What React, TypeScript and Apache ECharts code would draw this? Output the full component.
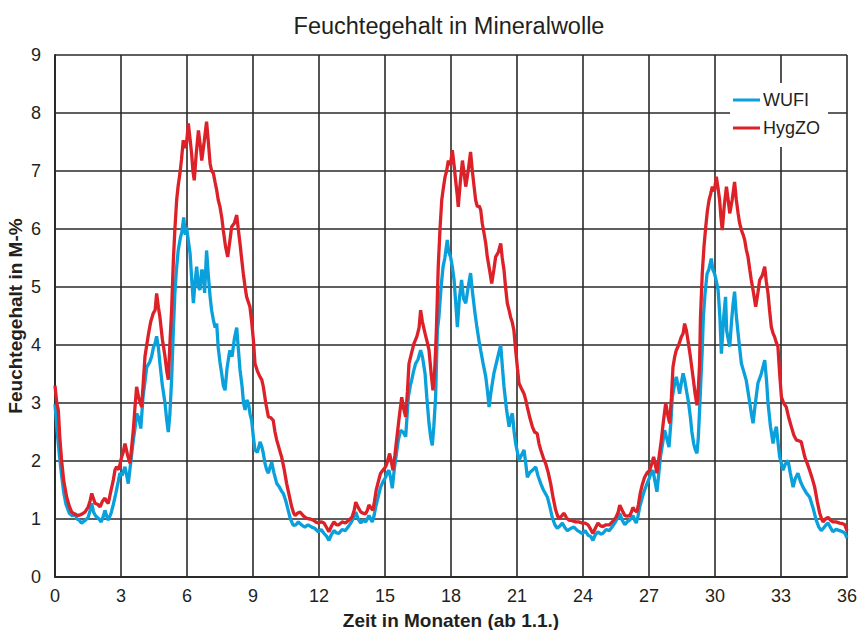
import React, { useEffect, useRef } from "react";
import * as echarts from "echarts";

const titleText = "Feuchtegehalt in Mineralwolle";
const xAxisName = "Zeit in Monaten (ab 1.1.)";
const yAxisName = "Feuchtegehalt in M-%";
const seriesNames = ["WUFI", "HygZO"];

// [month, M-%]
const wufiYear1: [number, number][] = [
  [0, 2.98], [0.1, 2.5], [0.2, 2.1], [0.3, 1.75], [0.4, 1.45], [0.5, 1.25], [0.65, 1.1], [0.8, 1.05], [0.9, 1.1], [1.0, 1.0],
  [1.1, 0.98], [1.2, 0.93], [1.35, 0.97], [1.5, 1.02], [1.6, 1.15], [1.67, 1.27], [1.75, 1.12], [1.85, 1.05], [2.0, 1.0], [2.1, 0.95],
  [2.2, 1.05], [2.27, 1.15], [2.35, 1.05], [2.42, 0.98], [2.55, 1.1], [2.65, 1.25], [2.73, 1.38], [2.85, 1.6], [2.95, 1.79], [3.05, 1.75],
  [3.18, 1.9], [3.26, 1.75], [3.33, 1.61], [3.45, 2.0], [3.56, 2.36], [3.65, 2.6], [3.71, 2.82], [3.8, 2.75], [3.9, 2.56], [4.0, 3.1],
  [4.1, 3.4], [4.17, 3.62], [4.3, 3.7], [4.39, 3.8], [4.47, 3.95], [4.55, 4.03], [4.62, 4.15], [4.7, 3.95], [4.77, 3.68], [4.88, 3.3],
  [5.0, 3.0], [5.08, 2.7], [5.15, 2.5], [5.22, 2.8], [5.3, 3.4], [5.38, 4.25], [5.45, 4.9], [5.52, 5.3], [5.6, 5.63], [5.7, 5.85],
  [5.77, 5.95], [5.85, 6.2], [5.92, 5.9], [5.98, 6.04], [6.06, 5.8], [6.14, 5.58], [6.22, 5.1], [6.29, 4.72], [6.37, 5.1], [6.44, 5.35],
  [6.52, 5.0], [6.59, 4.95], [6.67, 5.3], [6.74, 5.23], [6.8, 4.9], [6.89, 5.63], [6.97, 5.2], [7.05, 4.83], [7.12, 4.6], [7.2, 4.43],
  [7.28, 4.3], [7.35, 4.37], [7.42, 3.95], [7.5, 3.7], [7.58, 3.5], [7.65, 3.3], [7.73, 3.22], [7.82, 3.6], [7.9, 3.8], [7.95, 3.91],
  [8.05, 3.8], [8.15, 4.1], [8.26, 4.3], [8.33, 3.95], [8.41, 3.57], [8.5, 3.3], [8.57, 3.0], [8.64, 2.88], [8.72, 3.05], [8.79, 3.0],
  [8.87, 2.8], [8.94, 2.7], [9.02, 2.4], [9.09, 2.19], [9.2, 2.15], [9.32, 2.33], [9.4, 2.25], [9.47, 2.13], [9.55, 1.95], [9.62, 1.85],
  [9.7, 1.79], [9.78, 1.9], [9.85, 1.98], [9.95, 1.8], [10.08, 1.61], [10.2, 1.55], [10.3, 1.48], [10.38, 1.44], [10.5, 1.3], [10.6, 1.15],
  [10.7, 1.0], [10.83, 0.89], [10.95, 0.9], [11.06, 0.95], [11.2, 0.9], [11.36, 0.86], [11.5, 0.9], [11.67, 0.86], [11.8, 0.84], [11.97, 0.78],
];
const wufiYear2: [number, number][] = [
  [12.1, 0.82], [12.23, 0.75], [12.35, 0.7], [12.45, 0.63], [12.55, 0.72], [12.68, 0.8], [12.8, 0.76], [12.9, 0.75], [13.05, 0.82], [13.2, 0.8],
  [13.32, 0.86], [13.44, 0.93], [13.55, 1.0], [13.67, 1.12], [13.78, 1.0], [13.9, 0.93], [14.0, 0.98], [14.12, 0.95], [14.2, 1.0], [14.27, 1.06],
  [14.35, 1.0], [14.42, 0.95], [14.5, 1.05], [14.58, 1.21], [14.7, 1.4], [14.8, 1.55], [14.92, 1.65], [15.03, 1.72], [15.1, 1.8], [15.18, 1.84],
  [15.26, 1.7], [15.33, 1.53], [15.42, 1.85], [15.52, 2.13], [15.6, 2.35], [15.71, 2.53], [15.82, 2.5], [15.94, 2.42], [16.06, 3.1], [16.15, 3.3],
  [16.21, 3.39], [16.3, 3.55], [16.39, 3.68], [16.5, 3.75], [16.62, 3.91], [16.7, 3.8], [16.82, 3.51], [16.9, 3.1], [17.0, 2.65], [17.08, 2.4],
  [17.15, 2.27], [17.22, 2.6], [17.3, 3.1], [17.38, 4.25], [17.45, 4.48], [17.55, 5.0], [17.64, 5.35], [17.72, 5.5], [17.83, 5.81], [17.9, 5.6],
  [17.98, 5.52], [18.06, 5.35], [18.14, 5.12], [18.22, 4.7], [18.29, 4.31], [18.38, 4.8], [18.48, 5.12], [18.57, 4.8], [18.67, 4.72], [18.78, 5.0],
  [18.89, 5.24], [18.98, 4.9], [19.09, 4.55], [19.18, 4.3], [19.27, 4.08], [19.35, 3.91], [19.45, 3.7], [19.58, 3.45], [19.66, 3.2], [19.73, 2.93],
  [19.82, 3.2], [19.95, 3.51], [20.1, 3.75], [20.26, 4.0], [20.34, 3.6], [20.41, 3.28], [20.52, 2.9], [20.64, 2.59], [20.72, 2.75], [20.79, 2.82],
  [20.87, 2.5], [20.94, 2.3], [21.02, 2.15], [21.09, 2.01], [21.2, 2.1], [21.32, 2.19], [21.4, 1.95], [21.47, 1.72], [21.58, 1.8], [21.7, 1.84],
  [21.85, 1.9], [21.95, 1.75], [22.08, 1.61], [22.2, 1.5], [22.38, 1.38], [22.5, 1.2], [22.6, 1.03], [22.72, 0.9], [22.83, 0.84], [22.95, 0.88],
  [23.06, 0.93], [23.18, 0.85], [23.29, 0.8], [23.45, 0.84], [23.59, 0.86], [23.75, 0.8], [23.85, 0.78], [23.97, 0.75],
];
const wufiYear3: [number, number][] = [
  [24.1, 0.8], [24.23, 0.72], [24.35, 0.7], [24.45, 0.63], [24.55, 0.72], [24.68, 0.78], [24.8, 0.74], [24.9, 0.75], [25.05, 0.82], [25.2, 0.8],
  [25.32, 0.86], [25.44, 0.93], [25.55, 1.0], [25.67, 1.1], [25.78, 0.98], [25.9, 0.9], [26.0, 0.95], [26.12, 0.98], [26.2, 1.02], [26.27, 1.06],
  [26.35, 0.98], [26.42, 0.93], [26.5, 1.05], [26.58, 1.21], [26.7, 1.38], [26.8, 1.5], [26.92, 1.62], [27.03, 1.72], [27.1, 1.8], [27.18, 1.84],
  [27.27, 1.65], [27.36, 1.47], [27.45, 1.8], [27.52, 2.07], [27.62, 2.3], [27.71, 2.53], [27.8, 2.4], [27.91, 2.24], [28.0, 2.7], [28.06, 3.1],
  [28.15, 3.3], [28.24, 3.45], [28.32, 3.3], [28.39, 3.16], [28.47, 3.35], [28.55, 3.51], [28.62, 3.4], [28.7, 3.22], [28.8, 3.0], [28.88, 2.76],
  [28.95, 2.5], [29.03, 2.3], [29.1, 2.2], [29.18, 2.13], [29.24, 2.4], [29.3, 2.88], [29.36, 3.4], [29.42, 3.91], [29.47, 4.48], [29.55, 4.9],
  [29.64, 5.23], [29.72, 5.3], [29.83, 5.49], [29.9, 5.3], [29.98, 5.23], [30.06, 5.1], [30.14, 4.95], [30.22, 4.5], [30.29, 3.85], [30.35, 4.2],
  [30.4, 4.5], [30.48, 4.83], [30.53, 4.25], [30.6, 4.1], [30.67, 3.97], [30.75, 4.4], [30.82, 4.7], [30.89, 4.92], [30.97, 4.5], [31.05, 4.2],
  [31.12, 3.95], [31.2, 3.68], [31.3, 3.55], [31.42, 3.39], [31.5, 3.2], [31.58, 3.0], [31.66, 2.8], [31.73, 2.65], [31.82, 2.95], [31.95, 3.34],
  [32.1, 3.5], [32.26, 3.74], [32.34, 3.4], [32.41, 3.0], [32.52, 2.6], [32.64, 2.3], [32.72, 2.5], [32.79, 2.59], [32.87, 2.3], [32.94, 2.07],
  [33.02, 1.95], [33.09, 1.84], [33.2, 1.95], [33.32, 2.01], [33.42, 1.8], [33.55, 1.55], [33.65, 1.7], [33.77, 1.79], [33.88, 1.65], [34.0, 1.55],
  [34.15, 1.45], [34.3, 1.38], [34.45, 1.2], [34.6, 0.98], [34.72, 0.86], [34.83, 0.8], [34.95, 0.85], [35.05, 0.9], [35.14, 0.93], [35.25, 0.85],
  [35.36, 0.78], [35.5, 0.82], [35.67, 0.8], [35.8, 0.78], [35.9, 0.76], [36.0, 0.67],
];

const hygzoYear1: [number, number][] = [
  [0, 3.3], [0.08, 3.0], [0.15, 2.88], [0.22, 2.4], [0.3, 2.01], [0.4, 1.65], [0.53, 1.38], [0.65, 1.22], [0.76, 1.12], [0.9, 1.08],
  [1.06, 1.06], [1.2, 1.08], [1.36, 1.12], [1.5, 1.2], [1.6, 1.32], [1.67, 1.44], [1.75, 1.35], [1.82, 1.27], [1.95, 1.25], [2.05, 1.21],
  [2.15, 1.3], [2.27, 1.36], [2.35, 1.3], [2.42, 1.27], [2.55, 1.5], [2.65, 1.67], [2.73, 1.85], [2.8, 1.9], [2.9, 1.85], [3.03, 2.07],
  [3.1, 2.15], [3.18, 2.3], [3.3, 2.1], [3.41, 1.96], [3.5, 2.3], [3.56, 2.53], [3.63, 2.9], [3.71, 3.28], [3.8, 3.1], [3.94, 2.93],
  [4.02, 3.4], [4.09, 3.8], [4.17, 4.0], [4.24, 4.17], [4.35, 4.4], [4.47, 4.55], [4.55, 4.6], [4.62, 4.89], [4.7, 4.65], [4.77, 4.48],
  [4.88, 4.1], [5.0, 3.8], [5.08, 3.55], [5.15, 3.4], [5.23, 4.08], [5.3, 4.6], [5.38, 5.46], [5.45, 6.0], [5.53, 6.5], [5.6, 6.75],
  [5.68, 6.96], [5.75, 7.2], [5.83, 7.53], [5.9, 7.4], [5.98, 7.48], [6.06, 7.82], [6.14, 7.55], [6.21, 7.3], [6.27, 7.0], [6.33, 6.84],
  [6.42, 7.3], [6.52, 7.7], [6.6, 7.45], [6.67, 7.18], [6.78, 7.5], [6.89, 7.85], [6.97, 7.5], [7.05, 7.13], [7.12, 7.0], [7.2, 6.96],
  [7.28, 6.8], [7.35, 6.67], [7.42, 6.5], [7.5, 6.38], [7.58, 6.2], [7.65, 5.98], [7.75, 5.7], [7.85, 5.52], [7.95, 5.8], [8.03, 6.04],
  [8.15, 6.1], [8.26, 6.24], [8.33, 6.0], [8.41, 5.75], [8.48, 5.5], [8.56, 5.23], [8.64, 5.0], [8.71, 4.83], [8.78, 4.75], [8.86, 4.66],
  [8.94, 4.4], [9.02, 4.08], [9.09, 3.68], [9.2, 3.55], [9.32, 3.45], [9.4, 3.4], [9.47, 3.28], [9.58, 3.0], [9.7, 2.76], [9.8, 2.75],
  [9.92, 2.7], [10.0, 2.5], [10.08, 2.36], [10.2, 2.2], [10.3, 2.07], [10.42, 1.85], [10.53, 1.61], [10.65, 1.4], [10.76, 1.21], [10.85, 1.1],
  [10.91, 1.06], [11.02, 1.1], [11.14, 1.12], [11.3, 1.05], [11.44, 1.01], [11.6, 1.0], [11.74, 0.98], [11.85, 0.95], [11.97, 0.93],
];
const hygzoYear2: [number, number][] = [
  [12.1, 0.95], [12.23, 0.93], [12.35, 0.85], [12.45, 0.78], [12.57, 0.88], [12.68, 0.95], [12.8, 0.9], [12.9, 0.9], [13.05, 0.95], [13.2, 0.93],
  [13.35, 0.98], [13.5, 1.03], [13.6, 1.15], [13.67, 1.29], [13.78, 1.2], [13.9, 1.12], [14.0, 1.1], [14.12, 1.09], [14.2, 1.15], [14.27, 1.24],
  [14.35, 1.2], [14.45, 1.15], [14.52, 1.3], [14.6, 1.5], [14.7, 1.65], [14.8, 1.79], [14.92, 1.85], [15.03, 1.9], [15.12, 2.0], [15.21, 2.13],
  [15.28, 2.0], [15.36, 1.84], [15.45, 2.1], [15.56, 2.47], [15.66, 2.8], [15.76, 3.1], [15.85, 2.9], [15.94, 2.76], [16.02, 3.2], [16.09, 3.68],
  [16.2, 3.85], [16.32, 4.03], [16.45, 4.15], [16.55, 4.3], [16.62, 4.6], [16.7, 4.4], [16.82, 4.2], [16.92, 4.05], [17.0, 3.91], [17.1, 3.5],
  [17.18, 3.22], [17.25, 3.5], [17.3, 3.91], [17.34, 4.31], [17.42, 5.35], [17.5, 6.0], [17.58, 6.5], [17.65, 6.7], [17.73, 6.9], [17.8, 7.0],
  [17.88, 7.18], [17.97, 7.1], [18.06, 7.36], [18.14, 7.1], [18.21, 6.84], [18.28, 6.6], [18.33, 6.38], [18.42, 6.8], [18.52, 7.18], [18.6, 6.95],
  [18.67, 6.73], [18.78, 7.0], [18.89, 7.33], [18.97, 7.0], [19.05, 6.73], [19.12, 6.5], [19.2, 6.38], [19.28, 6.4], [19.35, 6.33], [19.42, 6.1],
  [19.5, 5.93], [19.58, 5.75], [19.65, 5.52], [19.75, 5.3], [19.85, 5.06], [19.95, 5.3], [20.03, 5.52], [20.15, 5.6], [20.26, 5.75], [20.33, 5.5],
  [20.41, 5.29], [20.48, 5.0], [20.56, 4.72], [20.64, 4.6], [20.71, 4.48], [20.78, 4.4], [20.86, 4.25], [20.94, 3.91], [21.02, 3.6], [21.09, 3.34],
  [21.2, 3.25], [21.32, 3.16], [21.4, 3.05], [21.47, 2.93], [21.58, 2.75], [21.7, 2.59], [21.8, 2.5], [21.92, 2.47], [22.0, 2.3], [22.08, 2.19],
  [22.2, 2.05], [22.3, 1.96], [22.42, 1.8], [22.53, 1.61], [22.65, 1.35], [22.76, 1.15], [22.85, 1.05], [22.91, 1.01], [23.02, 1.05], [23.14, 1.1],
  [23.25, 1.02], [23.36, 0.98], [23.5, 0.97], [23.67, 0.95], [23.8, 0.95], [23.97, 0.93],
];
const hygzoYear3: [number, number][] = [
  [24.1, 0.93], [24.23, 0.9], [24.35, 0.82], [24.45, 0.75], [24.57, 0.85], [24.68, 0.93], [24.8, 0.88], [24.9, 0.87], [25.05, 0.9], [25.2, 0.9],
  [25.35, 0.96], [25.5, 1.03], [25.6, 1.12], [25.67, 1.24], [25.78, 1.15], [25.9, 1.06], [26.0, 1.05], [26.12, 1.06], [26.2, 1.12], [26.27, 1.2],
  [26.35, 1.15], [26.45, 1.12], [26.52, 1.25], [26.6, 1.44], [26.7, 1.6], [26.8, 1.72], [26.92, 1.8], [27.03, 1.84], [27.12, 1.95], [27.21, 2.07],
  [27.28, 1.95], [27.36, 1.79], [27.45, 2.05], [27.56, 2.36], [27.66, 2.7], [27.76, 3.0], [27.85, 2.8], [27.94, 2.65], [28.02, 3.1], [28.09, 3.62],
  [28.17, 3.8], [28.24, 3.91], [28.35, 4.0], [28.47, 4.14], [28.55, 4.2], [28.62, 4.37], [28.7, 4.25], [28.77, 4.08], [28.88, 3.8], [29.0, 3.45],
  [29.1, 3.15], [29.18, 2.96], [29.25, 3.3], [29.3, 3.68], [29.34, 4.48], [29.42, 5.23], [29.5, 5.7], [29.58, 6.04], [29.65, 6.3], [29.73, 6.5],
  [29.8, 6.6], [29.88, 6.73], [29.97, 6.65], [30.06, 6.9], [30.14, 6.7], [30.21, 6.5], [30.27, 6.2], [30.33, 5.98], [30.42, 6.4], [30.52, 6.73],
  [30.6, 6.5], [30.67, 6.27], [30.78, 6.5], [30.89, 6.81], [30.97, 6.5], [31.05, 6.27], [31.12, 6.1], [31.2, 5.98], [31.28, 5.9], [31.35, 5.81],
  [31.42, 5.65], [31.5, 5.52], [31.58, 5.3], [31.65, 5.12], [31.75, 4.9], [31.85, 4.66], [31.95, 4.9], [32.03, 5.12], [32.15, 5.2], [32.26, 5.35],
  [32.33, 5.1], [32.41, 4.89], [32.48, 4.6], [32.56, 4.31], [32.64, 4.2], [32.71, 4.14], [32.78, 4.05], [32.86, 3.97], [32.94, 3.5], [33.02, 3.1],
  [33.12, 3.0], [33.24, 2.93], [33.35, 2.75], [33.47, 2.59], [33.58, 2.45], [33.7, 2.36], [33.8, 2.35], [33.92, 2.33], [34.0, 2.2], [34.08, 2.07],
  [34.2, 1.95], [34.3, 1.84], [34.42, 1.7], [34.53, 1.55], [34.65, 1.3], [34.76, 1.1], [34.85, 1.0], [34.91, 0.95], [35.02, 1.0], [35.14, 1.03],
  [35.25, 0.98], [35.36, 0.95], [35.5, 0.95], [35.67, 0.93], [35.8, 0.92], [35.9, 0.9], [36.0, 0.8],
];

const FONT = "'Liberation Sans', Arial, Helvetica, sans-serif";
const TEXT = "#231f20";
const GRIDC = "#2a2a2a";

export default function App() {
  const ref = useRef<HTMLDivElement>(null);
  useEffect(() => {
    if (!ref.current) return;
    const chart = echarts.init(ref.current, undefined, { renderer: "svg" });
    chart.setOption({
      animation: false,
      backgroundColor: "#ffffff",
      textStyle: { fontFamily: FONT },
      title: {
        text: titleText,
        left: 444,
        top: 9,
        textAlign: "center",
        textStyle: { fontFamily: FONT, fontSize: 23.5, fontWeight: "normal", color: TEXT },
      },
      grid: { left: 55, right: 14, top: 55, bottom: 53, containLabel: false, outerBoundsMode: "none" },
      legend: {
        data: seriesNames,
        orient: "vertical",
        left: 730,
        top: 83,
        padding: [7, 8, 9, 3],
        backgroundColor: "#ffffff",
        itemGap: 8,
        itemWidth: 27,
        itemHeight: 3,
        icon: "rect",
        textStyle: { fontFamily: FONT, fontSize: 18, color: TEXT, lineHeight: 20, padding: [0, 0, 0, -2] },
      },
      xAxis: {
        type: "value",
        min: 0,
        max: 36,
        interval: 3,
        name: xAxisName,
        nameLocation: "middle",
        nameGap: 34,
        nameMoveOverlap: false,
        nameTextStyle: { fontFamily: FONT, fontSize: 19, fontWeight: "bold", color: TEXT },
        axisLine: { show: true, lineStyle: { color: GRIDC, width: 2 } },
        axisTick: { show: false },
        axisLabel: { fontFamily: FONT, fontSize: 18, color: TEXT, margin: 10 },
        splitLine: { show: true, lineStyle: { color: GRIDC, width: 1.6 } },
      },
      yAxis: {
        type: "value",
        min: 0,
        max: 9,
        interval: 1,
        name: yAxisName,
        nameLocation: "middle",
        nameGap: 30,
        nameMoveOverlap: false,
        nameTextStyle: { fontFamily: FONT, fontSize: 19, fontWeight: "bold", color: TEXT },
        axisLine: { show: true, lineStyle: { color: GRIDC, width: 2 } },
        axisTick: { show: false },
        axisLabel: { fontFamily: FONT, fontSize: 18, color: TEXT, margin: 14 },
        splitLine: { show: true, lineStyle: { color: GRIDC, width: 1.6 } },
      },
      series: [
        {
          name: seriesNames[0],
          type: "line",
          data: [...wufiYear1, ...wufiYear2, ...wufiYear3],
          showSymbol: false,
          symbol: "none",
          lineStyle: { color: "#0aa0dc", width: 3.3 },
          itemStyle: { color: "#0aa0dc" },
          z: 3,
        },
        {
          name: seriesNames[1],
          type: "line",
          data: [...hygzoYear1, ...hygzoYear2, ...hygzoYear3],
          showSymbol: false,
          symbol: "none",
          lineStyle: { color: "#dc2128", width: 3.3 },
          itemStyle: { color: "#dc2128" },
          z: 4,
        },
      ],
    });
    return () => chart.dispose();
  }, []);
  return (
    <div
      ref={ref}
      style={{ position: "absolute", left: 0, top: 0, width: 861, height: 630, background: "#fff" }}
    />
  );
}
